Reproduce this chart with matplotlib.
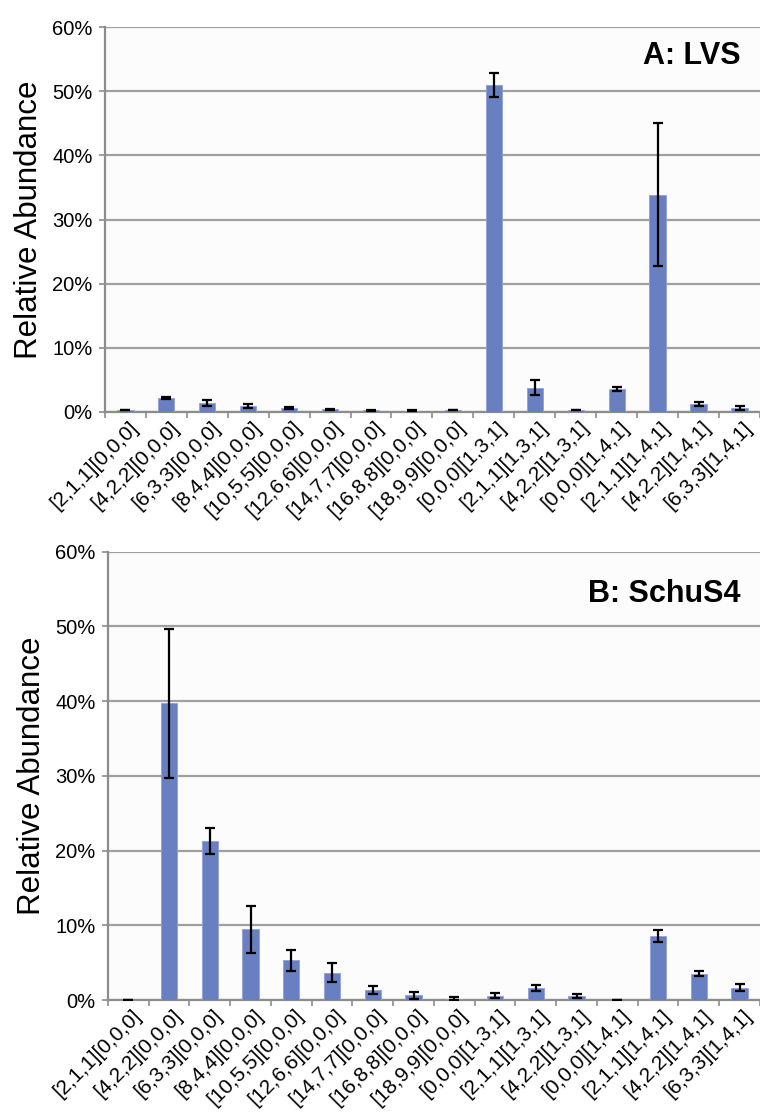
import matplotlib
matplotlib.use('Agg')
import matplotlib.pyplot as plt
import matplotlib.transforms as mtransforms
import numpy as np
from matplotlib.ticker import FuncFormatter, MultipleLocator

plt.rcParams['font.family'] = ['Liberation Sans', 'DejaVu Sans']

categories = ['[2,1,1][0,0,0]', '[4,2,2][0,0,0]', '[6,3,3][0,0,0]', '[8,4,4][0,0,0]',
              '[10,5,5][0,0,0]', '[12,6,6][0,0,0]', '[14,7,7][0,0,0]', '[16,8,8][0,0,0]',
              '[18,9,9][0,0,0]', '[0,0,0][1,3,1]', '[2,1,1][1,3,1]', '[4,2,2][1,3,1]',
              '[0,0,0][1,4,1]', '[2,1,1][1,4,1]', '[4,2,2][1,4,1]', '[6,3,3][1,4,1]']

# A: LVS (percent)
lvs_mean = [0.25, 2.2, 1.4, 0.9, 0.6, 0.42, 0.25, 0.22, 0.25, 51.0, 3.8, 0.25, 3.6, 33.9, 1.25, 0.6]
lvs_err = [0.0, 0.12, 0.45, 0.35, 0.12, 0.1, 0.05, 0.05, 0.0, 1.9, 1.15, 0.0, 0.3, 11.2, 0.35, 0.25]

# B: SchuS4 (percent)
schu_mean = [0.0, 39.7, 21.3, 9.5, 5.3, 3.65, 1.35, 0.65, 0.2, 0.6, 1.65, 0.6, 0.05, 8.6, 3.55, 1.65]
schu_err = [0.0, 10.0, 1.7, 3.15, 1.4, 1.3, 0.55, 0.45, 0.25, 0.3, 0.4, 0.27, 0.0, 0.8, 0.33, 0.5]

bar_color = '#687fc2'
grid_color = '#a0a0a0'
spine_color = '#8c8c8c'

fig = plt.figure(figsize=(7.6, 11.17), dpi=100)
fig.patch.set_facecolor('white')
ax_a = fig.add_axes([0.138, 0.6312, 0.862, 0.3444])
ax_b = fig.add_axes([0.142, 0.1047, 0.858, 0.4014])


def draw_panel(ax, mean, err, title, title_y):
    x = np.arange(len(categories))
    ax.set_facecolor('#fcfcfc')
    ax.bar(x, mean, width=0.4, color=bar_color, edgecolor='#8fa0d4', linewidth=0.6, zorder=3)
    ax.errorbar(x, mean, yerr=err, fmt='none', ecolor='black', elinewidth=1.6,
                capsize=3.5, capthick=1.6, zorder=4)
    ax.set_xlim(-0.5, len(categories) - 0.5)
    ax.set_ylim(0, 60)
    ax.yaxis.set_major_locator(MultipleLocator(10))
    ax.yaxis.set_major_formatter(FuncFormatter(lambda v, p: '%d%%' % v))
    ax.grid(axis='y', color=grid_color, linewidth=1.6, zorder=0)
    ax.set_axisbelow(True)
    for s in ['top', 'right']:
        ax.spines[s].set_visible(False)
    for s in ['left', 'bottom']:
        ax.spines[s].set_color(spine_color)
        ax.spines[s].set_linewidth(1.6)
    ax.tick_params(axis='y', length=4, color=spine_color, width=1.2, labelsize=14.5, pad=5)
    ax.set_xticks(x)
    ax.set_xticks(np.arange(-0.5, len(categories)), minor=True)
    ax.tick_params(axis='x', which='major', length=0, pad=9)
    ax.tick_params(axis='x', which='minor', length=4, color=spine_color, width=1.2)
    offset = mtransforms.ScaledTranslation(0.1, 0, fig.dpi_scale_trans)
    ax.set_xticklabels(categories, rotation=45, ha='right', va='center',
                       rotation_mode='anchor', fontsize=15)
    for lab in ax.get_xticklabels():
        lab.set_transform(lab.get_transform() + offset)
    ax.set_ylabel('Relative Abundance', fontsize=22.5, labelpad=6)
    ax.text(0.97, title_y, title, transform=ax.transAxes, ha='right', va='center',
            fontsize=22, fontweight='bold')


draw_panel(ax_a, lvs_mean, lvs_err, 'A: LVS', 0.925)
draw_panel(ax_b, schu_mean, schu_err, 'B: SchuS4', 0.906)

fig.savefig('out.png', dpi=100, facecolor='white')
